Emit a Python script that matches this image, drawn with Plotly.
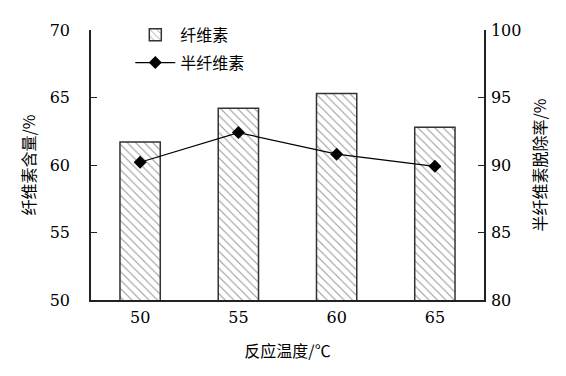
import plotly.graph_objects as go

categories = ["50", "55", "60", "65"]
cellulose = [61.7, 64.2, 65.3, 62.8]
hemi_removal = [90.2, 92.4, 90.8, 89.9]
left_ticks = [50, 55, 60, 65, 70]
right_ticks = [80, 85, 90, 95, 100]

FONT = "DejaVu Serif"
CJK = "Noto Sans CJK SC"

fig = go.Figure()
fig.add_trace(go.Bar(
    x=categories, y=cellulose, name="纤维素", width=0.41,
    marker=dict(color="white", line=dict(color="#333333", width=1.5),
                pattern=dict(shape="\\", fgcolor="#333333", bgcolor="white",
                             size=6, solidity=0.18)),
    yaxis="y", legendgroup="a",
))
fig.add_trace(go.Scatter(
    x=categories, y=hemi_removal, name="半纤维素", mode="lines+markers",
    line=dict(color="black", width=1.2),
    marker=dict(symbol="diamond", size=10, color="black"),
    yaxis="y2", legendgroup="b",
))

fig.update_layout(
    width=566, height=376,
    margin=dict(l=83, r=90, t=22, b=84, autoexpand=False),
    paper_bgcolor="white", plot_bgcolor="white",
    font=dict(family=FONT, size=16, color="black"),
    showlegend=True,
    legend=dict(x=0.10, y=1.045, xanchor="left", yanchor="top",
                bgcolor="rgba(0,0,0,0)", font=dict(family=CJK, size=16),
                tracegroupgap=4, itemwidth=40),
    xaxis=dict(type="category", range=[-0.5, 3.5], showline=True,
               linecolor="#222222", linewidth=1.5, ticks="", showgrid=False,
               tickfont=dict(family=FONT, size=16), ticklabelstandoff=2,
               title=dict(text="反应温度/℃", font=dict(family=CJK, size=16),
                          standoff=20)),
    yaxis=dict(range=[50, 70], tickvals=left_ticks, showline=True,
               linecolor="#222222", linewidth=1.5, ticks="inside", ticklen=6,
               tickcolor="#222222", showgrid=False, zeroline=False,
               tickfont=dict(family=FONT, size=16), ticklabelstandoff=16,
               title=dict(text="纤维素含量/%", font=dict(family=CJK, size=16),
                          standoff=10)),
    yaxis2=dict(range=[80, 100], tickvals=right_ticks, overlaying="y",
                side="right", showline=True, linecolor="#222222", linewidth=1.5,
                ticks="inside", ticklen=6, tickcolor="#222222", showgrid=False,
                zeroline=False, tickfont=dict(family=FONT, size=16),
                ticklabelstandoff=2,
                title=dict(text="半纤维素脱除率/%", font=dict(family=CJK, size=16),
                           standoff=14)),
)

fig.write_html("out.html")
